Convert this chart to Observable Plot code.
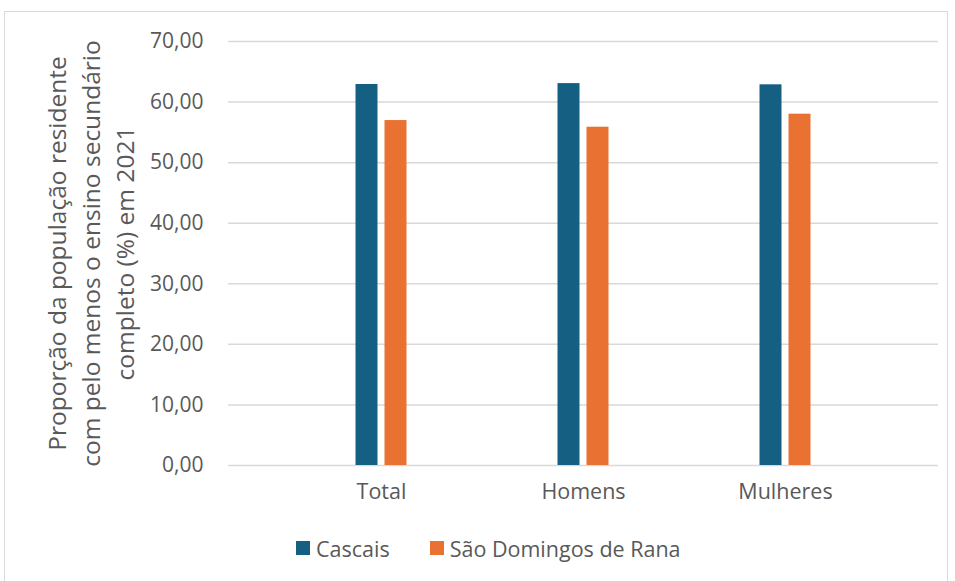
<!DOCTYPE html>
<html>
<head>
<meta charset="utf-8">
<script src="https://cdn.jsdelivr.net/npm/d3@7"></script>
<script src="https://cdn.jsdelivr.net/npm/@observablehq/plot@0.6"></script>
<style>
  html, body { margin: 0; padding: 0; background: #fff; width: 955px; height: 581px; overflow: hidden; }
  #frame { position: absolute; left: 4px; top: 11px; width: 944px; height: 580px; border: 1.5px solid #d9d9d9; box-sizing: border-box; }
  #chart { position: absolute; left: 0; top: 0; }
  #legend { position: absolute; top: 534px; left: 296px; height: 28px; display: flex; align-items: center; font-family: "Open Sans", sans-serif; font-size: 21.5px; color: #595959; }
  .item { display: flex; align-items: center; margin-right: 40px; }
  .sw { width: 14px; height: 14px; margin-right: 6px; }
</style>
</head>
<body>
<div id="frame"></div>
<div id="chart"></div>
<div id="legend"></div>
<script>
const categories = ["Total", "Homens", "Mulheres"];
const series = ["Cascais", "São Domingos de Rana"];
const cascaisValues = [62.9, 63.05, 62.85];
const sdrValues = [56.95, 55.85, 58.0];
const colors = ["#156082", "#E97132"];
const yTicks = [0, 10, 20, 30, 40, 50, 60, 70];
const yLabel = "Proporção da população residente\ncom pelo menos o ensino secundário\ncompleto (%) em 2021";

const cascaisData = categories.map((c, i) => ({category: c, series: series[0], value: cascaisValues[i]}));
const sdrData = categories.map((c, i) => ({category: c, series: series[1], value: sdrValues[i]}));

const fmt = d => d.toFixed(2).replace(".", ",");
const font = "'Open Sans', sans-serif";

const plot = Plot.plot({
  width: 955,
  height: 510,
  marginLeft: 228,
  marginRight: 17,
  marginTop: 41,
  marginBottom: 45,
  style: {fontFamily: font, background: "transparent"},
  x: {domain: categories, paddingInner: 0, paddingOuter: 0.25, label: null},
  y: {domain: [0, 70], label: null},
  color: {domain: series, range: colors},
  marks: [
    Plot.gridY(yTicks, {stroke: "#d9d9d9", strokeWidth: 1.5, strokeOpacity: 1}),
    Plot.axisY(yTicks, {tickSize: 0, tickPadding: 25, fontSize: 21, fill: "#595959", tickFormat: fmt, label: null}),
    Plot.text([yLabel], {frameAnchor: "left", textAnchor: "middle", lineAnchor: "middle", rotate: -90, dx: -139, fontSize: 24.5, lineHeight: 1.39, fill: "#595959"}),
    Plot.barY(cascaisData, {x: "category", y: "value", fill: "series", insetLeft: 75.5, insetRight: 104.5}),
    Plot.barY(sdrData, {x: "category", y: "value", fill: "series", insetLeft: 104.5, insetRight: 75.5}),
    Plot.axisX({tickSize: 0, tickPadding: 18, fontSize: 21.5, fill: "#595959", label: null})
  ]
});
document.getElementById("chart").appendChild(plot);

const legend = document.getElementById("legend");
series.forEach((s, i) => {
  const it = document.createElement("div");
  it.className = "item";
  it.innerHTML = `<div class="sw" style="background:${colors[i]}"></div><span>${s}</span>`;
  legend.appendChild(it);
});
</script>
</body>
</html>
